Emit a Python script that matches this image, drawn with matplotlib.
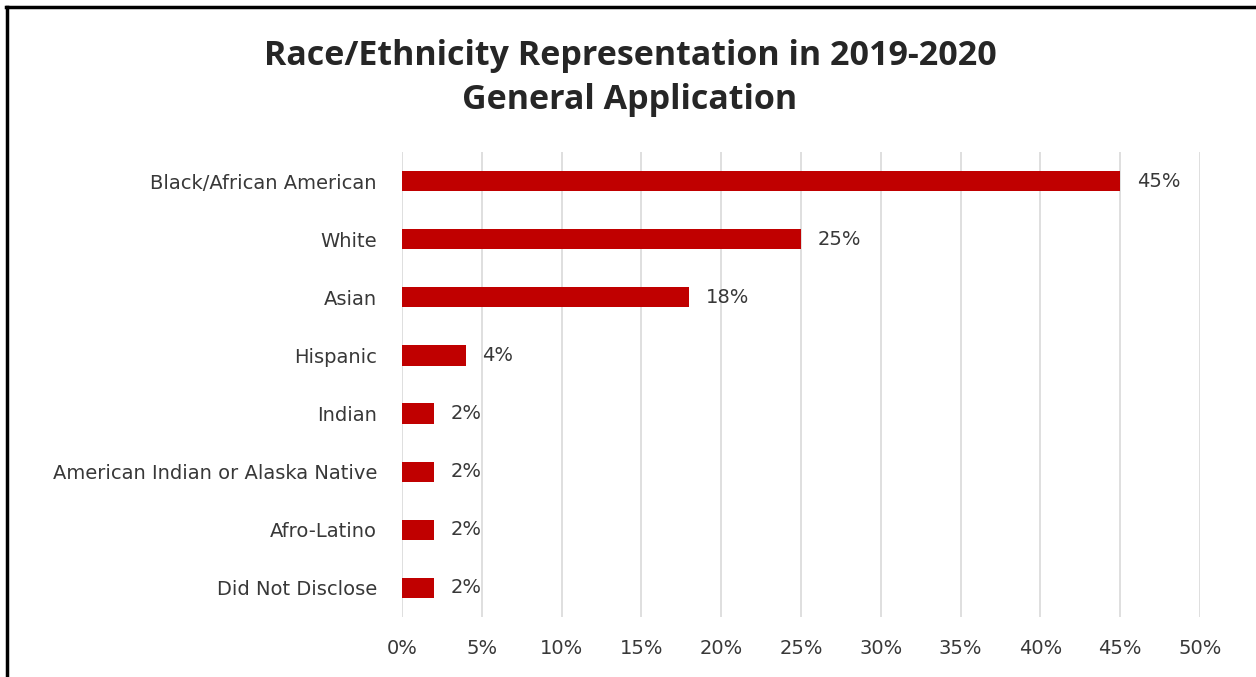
import matplotlib
matplotlib.use("Agg")
import matplotlib.pyplot as plt
from matplotlib.lines import Line2D
from matplotlib.ticker import MultipleLocator, FuncFormatter

categories = [
    "Black/African American",
    "White",
    "Asian",
    "Hispanic",
    "Indian",
    "American Indian or Alaska Native",
    "Afro-Latino",
    "Did Not Disclose",
]
percentages = [45, 25, 18, 4, 2, 2, 2, 2]
title = "Race/Ethnicity Representation in 2019-2020\nGeneral Application"

W, H = 1256, 677
fig = plt.figure(figsize=(W / 100, H / 100), dpi=100)
plt.rcParams["font.family"] = ["DejaVu Sans"]

ax = fig.add_axes([402 / W, 1 - 617 / H, (1200 - 402) / W, (617 - 152) / H])

ypos = list(range(len(categories)))
ax.barh(ypos, percentages, height=0.35, color="#C00000", zorder=3)
ax.set_ylim(len(categories) - 0.5, -0.5)
ax.set_xlim(0, 50)
ax.set_yticks(ypos)
ax.set_yticklabels(categories)
ax.xaxis.set_major_locator(MultipleLocator(5))
ax.xaxis.set_major_formatter(FuncFormatter(lambda v, _: f"{v:.0f}%"))
ax.grid(axis="x", color="#d9d9d9", linewidth=1.2, zorder=0)
for s in ax.spines.values():
    s.set_visible(False)
ax.tick_params(axis="both", length=0, labelsize=14, colors="#383838")
ax.tick_params(axis="x", pad=16)
ax.tick_params(axis="y", pad=18)

for y, v in zip(ypos, percentages):
    ax.annotate(f"{v}%", (v, y), xytext=(12, 0), textcoords="offset points",
                va="center", ha="left", fontsize=14, color="#383838")

fig.text(630 / W, 1 - 78 / H, title, ha="center", va="center",
         fontsize=24.5, fontweight="bold", color="#262626", linespacing=1.35,
         family=["Open Sans", "DejaVu Sans"])

# frame on the top and left edges
fig.add_artist(Line2D([7 / W, 7 / W], [0, 1 - 7 / H], transform=fig.transFigure,
                      color="black", linewidth=2.5))
fig.add_artist(Line2D([6 / W, 1], [1 - 7 / H, 1 - 7 / H], transform=fig.transFigure,
                      color="black", linewidth=2.5))

fig.savefig("out.png", dpi=100, facecolor="white")
